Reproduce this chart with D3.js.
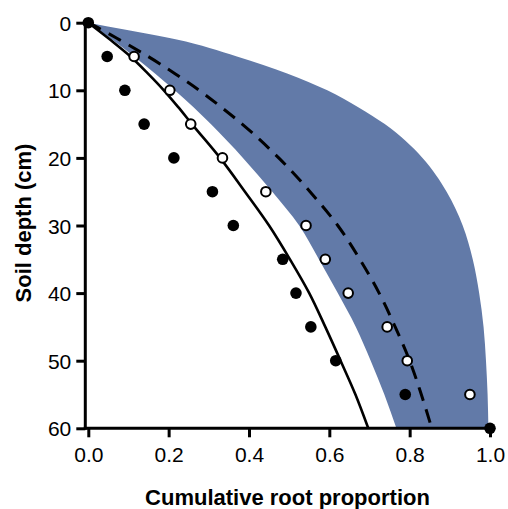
<!DOCTYPE html>
<html>
<head>
<meta charset="utf-8">
<script src="https://cdn.jsdelivr.net/npm/d3@7"></script>
<style>
  html, body { margin: 0; padding: 0; background: #fff; }
  svg { display: block; }
  text { font-family: "Liberation Sans", Arial, Helvetica, sans-serif; fill: #000; }
</style>
</head>
<body>
<svg id="chart" width="508" height="509"></svg>
<script>
// ---- data ----
const curveDepths = [0, 1, 2.5, 5, 7.5, 10, 12.5, 15, 20, 25, 30, 35, 40, 45, 50, 55, 60];
const bandLower   = [0, 0.024, 0.059, 0.114, 0.166, 0.215, 0.262, 0.305, 0.385, 0.458, 0.525, 0.574, 0.621, 0.666, 0.703, 0.737, 0.767];
const bandUpper   = [0, 0.09, 0.22, 0.37, 0.495, 0.595, 0.672, 0.738, 0.832, 0.892, 0.932, 0.957, 0.973, 0.984, 0.99, 0.994, 0.996];
const dashedFit   = [0, 0.032, 0.077, 0.149, 0.215, 0.276, 0.331, 0.383, 0.474, 0.552, 0.621, 0.676, 0.724, 0.764, 0.80, 0.829, 0.855];
const solidFit    = [0, 0.022, 0.054, 0.105, 0.148, 0.188, 0.224, 0.258, 0.328, 0.39, 0.45, 0.502, 0.55, 0.59, 0.628, 0.665, 0.697];

const filledDepths = [0, 5, 10, 15, 20, 25, 30, 35, 40, 45, 50, 55, 60];
const filledValues = [0, 0.047, 0.091, 0.139, 0.213, 0.309, 0.361, 0.484, 0.517, 0.554, 0.616, 0.789, 1.0];
const openDepths   = [5, 10, 15, 20, 25, 30, 35, 40, 45, 50, 55];
const openValues   = [0.114, 0.203, 0.255, 0.334, 0.442, 0.542, 0.590, 0.647, 0.744, 0.794, 0.950];

const xTicks = [0, 0.2, 0.4, 0.6, 0.8, 1.0];
const yTicks = [0, 10, 20, 30, 40, 50, 60];
const xTitle = "Cumulative root proportion";
const yTitle = "Soil depth (cm)";

// ---- drawing ----
const svg = d3.select("#chart");
const x = d3.scaleLinear().domain([0, 1]).range([88.3, 490]);
const y = d3.scaleLinear().domain([0, 60]).range([22.7, 428.3]);
const axisX0 = 85.3;

const band = curveDepths.map((d, i) => ({ d, lo: bandLower[i], hi: bandUpper[i] }));
svg.append("path")
  .datum(band)
  .attr("fill", "#627aa8")
  .attr("d", d3.area().y(p => y(p.d)).x0(p => x(p.lo)).x1(p => x(p.hi)).curve(d3.curveMonotoneY));

const lineGen = d3.line().y(p => y(p.d)).x(p => x(p.v)).curve(d3.curveMonotoneY);
svg.append("path")
  .datum(curveDepths.map((d, i) => ({ d, v: solidFit[i] })))
  .attr("fill", "none").attr("stroke", "#000").attr("stroke-width", 2.6)
  .attr("d", lineGen);
svg.append("path")
  .datum(curveDepths.map((d, i) => ({ d, v: dashedFit[i] })))
  .attr("fill", "none").attr("stroke", "#000").attr("stroke-width", 3)
  .attr("stroke-dasharray", "14,9")
  .attr("d", lineGen);

// axes
const yAxis = svg.append("g")
  .attr("transform", `translate(${axisX0},0)`)
  .call(d3.axisLeft(y).tickValues(yTicks).tickFormat(d3.format("d")).tickSize(9).tickPadding(5).tickSizeOuter(0));
const xAxis = svg.append("g")
  .attr("transform", `translate(0,${y(60)})`)
  .call(d3.axisBottom(x).tickValues(xTicks).tickFormat(d3.format(".1f")).tickSize(9).tickPadding(9.5).tickSizeOuter(0));
[yAxis, xAxis].forEach(g => {
  g.select(".domain").remove();
  g.selectAll(".tick line").attr("stroke", "#000").attr("stroke-width", 3);
  g.selectAll(".tick text").attr("font-size", 21).attr("font-family", "Liberation Sans, Arial, sans-serif").attr("fill", "#000");
});
yAxis.selectAll(".tick text").attr("dy", "0.36em");
svg.append("line").attr("x1", axisX0).attr("x2", axisX0).attr("y1", y(0)).attr("y2", y(60) + 1.5)
  .attr("stroke", "#000").attr("stroke-width", 3);
svg.append("line").attr("x1", axisX0 - 1.5).attr("x2", x(1)).attr("y1", y(60)).attr("y2", y(60))
  .attr("stroke", "#000").attr("stroke-width", 3);

// points
svg.append("g").selectAll("circle")
  .data(openDepths.map((d, i) => ({ d, v: openValues[i] })))
  .join("circle")
  .attr("cx", p => x(p.v)).attr("cy", p => y(p.d)).attr("r", 4.8)
  .attr("fill", "#fff").attr("stroke", "#000").attr("stroke-width", 2);
svg.append("g").selectAll("circle")
  .data(filledDepths.map((d, i) => ({ d, v: filledValues[i] })))
  .join("circle")
  .attr("cx", p => x(p.v)).attr("cy", p => y(p.d)).attr("r", 5.8)
  .attr("fill", "#000");

// titles
svg.append("text")
  .attr("x", 287.5).attr("y", 505)
  .attr("text-anchor", "middle").attr("font-size", 22).attr("font-weight", "bold")
  .text(xTitle);
svg.append("text")
  .attr("transform", `translate(31,223) rotate(-90)`)
  .attr("text-anchor", "middle").attr("font-size", 22).attr("font-weight", "bold")
  .text(yTitle);
</script>
</body>
</html>
